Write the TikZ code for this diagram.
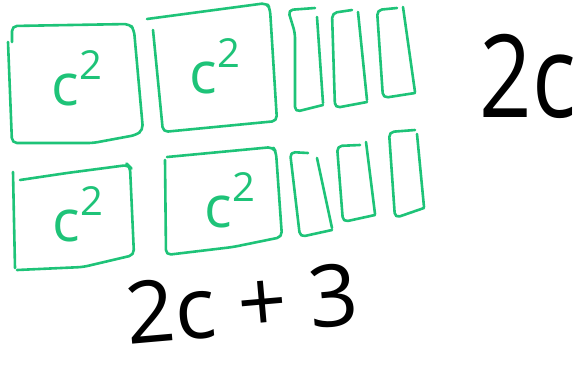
\documentclass[tikz,border=0pt]{standalone}
\usepackage{fontspec}
\setmainfont{Open Sans}
\definecolor{boxgreen}{RGB}{30,195,120}
\begin{document}
\begin{tikzpicture}[x=1pt,y=-1pt,
  hand/.style={draw=boxgreen, line width=2.6pt, line cap=round, line join=round, rounded corners=5pt},
  sqlabel/.style={text=boxgreen, inner sep=0pt, font=\fontsize{58}{58}\selectfont},
  bigtext/.style={text=black, inner sep=0pt}]
\useasboundingbox (0,0) rectangle (581,365);
% ---------- row 1 ----------
% square A
\draw[hand] (12,42) -- (12,26) -- (70,25) -- (130,24) -- (134,30) -- (143,130) -- (136,135) -- (93,143) -- (12,143) -- (8,42);
% square B
\draw[hand] (147,19) -- (267,3) -- (270,9) -- (277,121) -- (163,132) -- (153,30);
% thin rects row 1
\draw[hand] (315,8) -- (288,10) -- (295,33) -- (295,112) -- (323,105);
\draw[hand] (317,17) -- (323,103);
\draw[hand] (352,10) -- (332,13) -- (335,108) -- (367,102);
\draw[hand] (358,12) -- (367,100);
\draw[hand] (397,8) -- (377,10) -- (383,98) -- (415,93);
\draw[hand] (403,7) -- (415,92);
% ---------- row 2 ----------
% square C
\draw[hand] (13,172) -- (15,268);
\draw[hand] (20,180) -- (67,173) -- (128,165) -- (130,167) -- (134,255) -- (83,267) -- (17,270);
% square D
\draw[hand] (167,157) -- (273,147) -- (276,152) -- (282,237) -- (233,247) -- (166,255) -- (165,160);
% thin rects row 2
\draw[hand] (308,153) -- (290,152) -- (300,237) -- (332,230);
\draw[hand] (317,158) -- (332,228);
\draw[hand] (360,145) -- (337,146) -- (343,222) -- (375,215);
\draw[hand] (366,142) -- (375,214);
\draw[hand] (415,130) -- (389,132) -- (395,218) -- (424,208);
\draw[hand] (417,134) -- (424,207);
% ---------- labels ----------
\node[sqlabel] (la) at (77,78) {c\raisebox{0.45em}{\fontsize{40}{40}\selectfont 2}};
\node[sqlabel] (lb) at (215,66) {c\raisebox{0.45em}{\fontsize{40}{40}\selectfont 2}};
\node[sqlabel] (lc) at (78,214) {c\raisebox{0.45em}{\fontsize{40}{40}\selectfont 2}};
\node[sqlabel] (ld) at (230,200) {c\raisebox{0.45em}{\fontsize{40}{40}\selectfont 2}};
\node[bigtext, font=\fontsize{115}{115}\selectfont] (side) at (528,76) {\scalebox{0.8}[1]{2c}};
\node[bigtext, font=\fontsize{86}{86}\selectfont, rotate=5] (bottom) at (242,304) {2c + 3};
\end{tikzpicture}
\end{document}
